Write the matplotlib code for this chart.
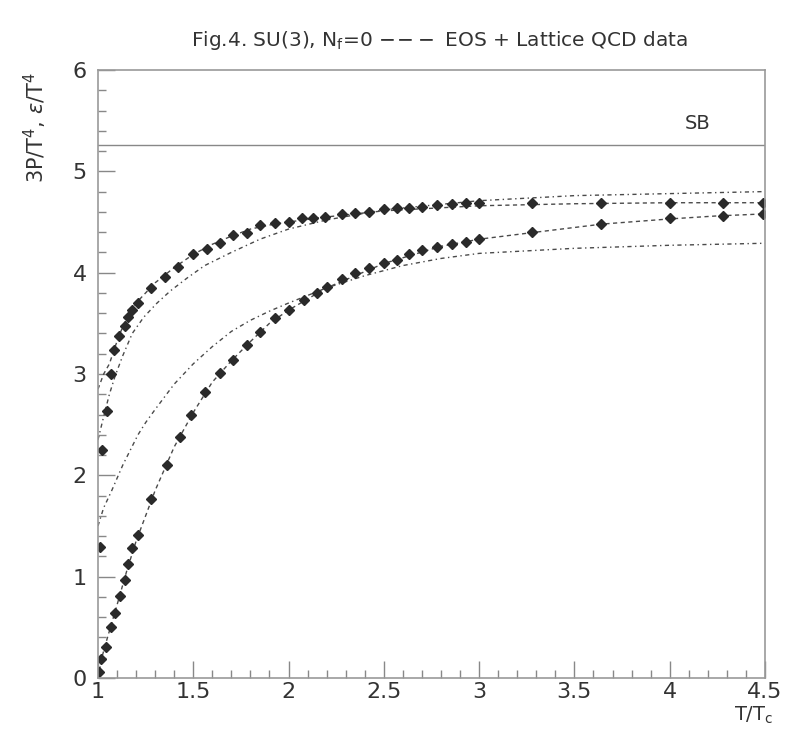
import matplotlib
matplotlib.use("Agg")
import matplotlib.pyplot as plt
from matplotlib.ticker import MultipleLocator

# Lattice data: energy density eps/T^4 (upper) and 3P/T^4 (lower)
t_eps = [1.01, 1.02, 1.045, 1.07, 1.085, 1.11, 1.14, 1.16, 1.18, 1.21, 1.28, 1.35,
         1.42, 1.50, 1.57, 1.64, 1.71, 1.78, 1.85, 1.93, 2.00, 2.07, 2.13, 2.19,
         2.28, 2.35, 2.42, 2.50, 2.57, 2.63, 2.70, 2.78, 2.86, 2.93, 3.00,
         3.28, 3.64, 4.00, 4.28, 4.49]
eps = [1.29, 2.25, 2.63, 3.00, 3.24, 3.37, 3.47, 3.56, 3.63, 3.70, 3.85, 3.96,
       4.06, 4.18, 4.23, 4.29, 4.37, 4.39, 4.47, 4.49, 4.50, 4.54, 4.54, 4.55,
       4.58, 4.59, 4.60, 4.63, 4.64, 4.64, 4.65, 4.67, 4.68, 4.69, 4.69,
       4.69, 4.69, 4.69, 4.69, 4.69]

t_p = [1.005, 1.015, 1.04, 1.07, 1.09, 1.115, 1.14, 1.16, 1.18, 1.21, 1.28, 1.36,
       1.43, 1.49, 1.56, 1.64, 1.71, 1.78, 1.85, 1.93, 2.00, 2.08, 2.15, 2.20,
       2.28, 2.35, 2.42, 2.50, 2.57, 2.63, 2.70, 2.78, 2.86, 2.93, 3.00,
       3.28, 3.64, 4.00, 4.28, 4.49]
p3 = [0.06, 0.19, 0.31, 0.50, 0.64, 0.81, 0.97, 1.12, 1.28, 1.41, 1.77, 2.10,
      2.38, 2.60, 2.82, 3.01, 3.14, 3.29, 3.41, 3.55, 3.63, 3.73, 3.80, 3.86,
      3.94, 4.00, 4.05, 4.10, 4.12, 4.18, 4.22, 4.25, 4.28, 4.30, 4.33,
      4.40, 4.48, 4.54, 4.56, 4.58]

# EOS curves (dashed) and alternative curves (dash-dot)
t_eos_eps = [1.0, 1.03, 1.06, 1.09, 1.12, 1.15, 1.2, 1.3, 1.4, 1.5, 1.6, 1.7, 1.8,
             1.9, 2.0, 2.2, 2.5, 3.0, 3.5, 4.0, 4.5]
eos_eps = [2.85, 3.0, 3.1, 3.27, 3.42, 3.55, 3.70, 3.90, 4.05, 4.18, 4.28, 4.36, 4.43,
           4.47, 4.50, 4.55, 4.61, 4.66, 4.68, 4.69, 4.69]

t_eos_p = [1.0, 1.02, 1.05, 1.1, 1.15, 1.2, 1.3, 1.4, 1.5, 1.6, 1.7, 1.8, 1.9, 2.0,
           2.2, 2.5, 2.8, 3.0, 3.3, 3.65, 4.0, 4.25, 4.5]
eos_p = [0.0, 0.2, 0.4, 0.72, 1.05, 1.35, 1.85, 2.28, 2.62, 2.92, 3.13, 3.32, 3.50, 3.63,
         3.85, 4.09, 4.26, 4.33, 4.40, 4.48, 4.53, 4.56, 4.58]

t_alt_eps = [1.0, 1.03, 1.06, 1.09, 1.13, 1.18, 1.24, 1.31, 1.38, 1.47, 1.56, 1.7,
             1.85, 2.0, 2.2, 2.5, 3.0, 3.5, 4.0, 4.5]
alt_eps = [2.35, 2.58, 2.80, 2.98, 3.18, 3.40, 3.56, 3.70, 3.82, 3.95, 4.07, 4.20,
           4.33, 4.43, 4.52, 4.62, 4.71, 4.76, 4.78, 4.80]

t_alt_p = [1.0, 1.03, 1.07, 1.1, 1.13, 1.17, 1.21, 1.25, 1.3, 1.4, 1.5, 1.6, 1.7, 1.8,
           1.9, 2.0, 2.2, 2.4, 2.6, 2.8, 3.0, 3.5, 4.0, 4.5]
alt_p = [1.5, 1.68, 1.84, 1.97, 2.10, 2.25, 2.40, 2.52, 2.65, 2.90, 3.10, 3.27, 3.42, 3.53,
         3.62, 3.70, 3.85, 3.97, 4.07, 4.14, 4.19, 4.24, 4.27, 4.29]

sb_value = 5.26

fig = plt.figure(figsize=(7.85, 7.29), dpi=100)
ax = fig.add_axes([0.1248, 0.070, 0.8497, 0.834])

lc = "#4a4a4a"
ax.plot(t_eos_eps, eos_eps, color=lc, lw=1.0, dashes=(3, 2.5))
ax.plot(t_eos_p, eos_p, color=lc, lw=1.0, dashes=(3, 2.5))
ax.plot(t_alt_eps, alt_eps, color=lc, lw=1.0, dashes=(3, 2.5, 1, 2.5))
ax.plot(t_alt_p, alt_p, color=lc, lw=1.0, dashes=(3, 2.5, 1, 2.5))

ax.plot(t_eps, eps, ls="none", marker="D", ms=5, color="#2a2a2a")
ax.plot(t_p, p3, ls="none", marker="D", ms=5, color="#2a2a2a")

ax.axhline(sb_value, color="#888888", lw=1.0)
ax.text(4.08, 5.38, "SB", fontsize=14, color="#333333", ha="left", va="bottom")

ax.set_xlim(1, 4.5)
ax.set_ylim(0, 6)
ax.xaxis.set_major_locator(MultipleLocator(0.5))
ax.xaxis.set_minor_locator(MultipleLocator(0.1))
ax.yaxis.set_major_locator(MultipleLocator(1))
ax.yaxis.set_minor_locator(MultipleLocator(0.2))
ax.set_xticks([1, 1.5, 2, 2.5, 3, 3.5, 4, 4.5])
ax.set_xticklabels(["1", "1.5", "2", "2.5", "3", "3.5", "4", "4.5"])
ax.tick_params(which="both", direction="in", top=False, right=False,
               color="#888888", labelsize=16, labelcolor="#333333")
ax.tick_params(which="major", length=12, width=1)
ax.tick_params(which="minor", length=6, width=1)
ax.tick_params(axis="x", pad=3)
ax.tick_params(axis="y", pad=8)
for s in ax.spines.values():
    s.set_color("#999999")
    s.set_linewidth(1.2)

fig.text(0.56, 0.928, "Fig.4. SU(3), N$_{\\rm f}$=0 $-\\!-\\!-$ EOS + Lattice QCD data",
         fontsize=14.5, color="#333333", ha="center", va="bottom")
fig.text(0.045, 0.825, "3P/T$^4$, $\\varepsilon$/T$^4$", rotation=90, fontsize=15,
         color="#333333", ha="center", va="center")
fig.text(0.935, 0.004, "T/T$_{\\rm c}$", fontsize=14, color="#333333",
         ha="left", va="bottom")

fig.savefig("out.png", dpi=100, facecolor="white")
